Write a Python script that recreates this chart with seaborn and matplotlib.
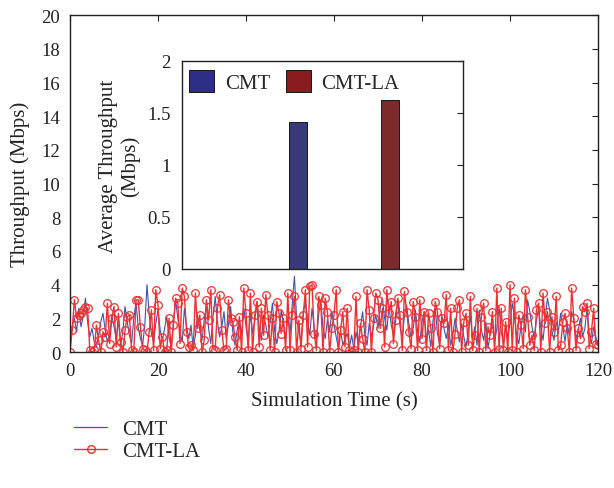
import numpy as np
import pandas as pd
import matplotlib
matplotlib.use("Agg")
import matplotlib.pyplot as plt
from matplotlib.patches import Patch
from matplotlib.lines import Line2D
import seaborn as sns

sns.set_style("white")
plt.rcParams['font.family'] = ['Liberation Serif', 'DejaVu Serif']
plt.rcParams['mathtext.fontset'] = 'stix'

time_step = 0.5
cmt_la = [
    0, 1.3, 3.1, 2.0, 2.2, 2.3, 2.5, 2.7, 2.6, 0.1, 0, 0.1, 1.6, 0.7, 0, 1.2, 0.9, 2.9, 0.5, 2.0,
    2.7, 0.3, 2.3, 0.6, 0, 1.3, 2.1, 2.2, 0.1, 0, 3.1, 3.1, 1.5, 0.2, 0.1, 0, 1.2, 2.5, 0.1, 3.7,
    2.8, 0.2, 0.9, 0, 0.1, 2.0, 0, 1.6, 3.2, 2.9, 0.5, 3.8, 3.3, 1.2, 0.3, 0.4, 0.1, 3.5, 1.4, 2.2,
    0, 0.7, 3.1, 1.9, 3.7, 0.2, 0.1, 2.6, 3.4, 1.3, 0.1, 0.2, 3.1, 2.0, 1.8, 0.9, 0.1, 2.1, 0, 3.8,
    2.3, 0.1, 3.5, 0, 2.2, 3.0, 0.3, 2.6, 1.0, 3.4, 2.2, 0.1, 2.0, 0, 3.0, 2.3, 1.1, 2.0, 0.1, 3.5,
    0.1, 2.2, 3.3, 0, 1.9, 0.2, 2.2, 3.7, 0.3, 3.9, 4.0, 1.1, 0.1, 3.3, 2.8, 0, 3.2, 2.4, 0, 1.4,
    2.2, 3.7, 0, 1.3, 2.4, 0.3, 2.6, 0.1, 0, 0.1, 3.3, 0, 1.7, 0.8, 0, 3.7, 2.5, 0, 2.0, 3.5,
    3.1, 1.4, 2.6, 0.3, 3.7, 2.3, 3.0, 0.5, 1.9, 3.2, 2.2, 0.1, 3.6, 2.4, 1.2, 0.2, 3.0, 2.1, 0.1, 3.1,
    0.8, 2.4, 0.1, 2.3, 1.4, 0, 3.0, 2.4, 0.2, 2.0, 1.7, 3.4, 0.1, 2.6, 0, 1.1, 2.6, 3.1, 0, 1.8,
    2.3, 0.4, 3.3, 0.1, 1.0, 2.6, 0, 2.1, 2.9, 0.1, 1.5, 1.0, 2.4, 0, 3.8, 0.2, 2.6, 0.1, 1.8, 0,
    4.0, 0.1, 3.2, 0, 2.2, 1.6, 0.2, 3.7, 2.1, 0.4, 1.0, 0.1, 2.5, 2.9, 0, 3.5, 1.7, 2.4, 0, 2.1,
    1.2, 3.3, 0.1, 0.4, 1.8, 2.3, 1.4, 0, 3.8, 2.0, 0.1, 1.4, 0.8, 2.7, 2.4, 2.9, 0.2, 1.2, 2.6, 0.5, 0.4,
]
cmt = [
    0.5, 1.5, 2.0, 1.2, 2.6, 1.5, 2.1, 3.2, 1.8, 0.9, 1.4, 0.6, 0.3, 1.0, 1.8, 2.3, 1.3, 0.6, 1.1, 2.2,
    1.5, 0.8, 1.9, 0.4, 1.2, 2.7, 1.8, 1.0, 0.5, 2.0, 3.0, 1.5, 0.8, 0.4, 1.6, 4.0, 2.2, 1.1, 0.6, 1.7,
    2.5, 1.3, 0.7, 1.4, 2.1, 0.9, 0.3, 1.8, 3.1, 2.0, 1.2, 0.6, 2.6, 1.5, 0.8, 1.6, 0.2, 1.0, 2.2, 1.3,
    0.7, 1.9, 2.8, 1.4, 0.5, 2.1, 3.3, 1.8, 0.9, 1.5, 2.4, 0.8, 1.6, 2.7, 1.2, 0.4, 1.3, 2.0, 1.0, 2.6,
    1.5, 0.6, 2.3, 1.1, 1.9, 3.0, 1.4, 0.7, 2.2, 1.6, 0.9, 1.8, 2.9, 1.3, 0.5, 1.2, 2.5, 1.7, 0.8, 2.0,
    1.1, 2.8, 4.5, 2.0, 1.2, 0.6, 2.3, 3.0, 1.8, 1.0, 2.6, 1.5, 0.7, 2.2, 3.1, 1.4, 0.8, 1.9, 1.2, 2.4,
    1.6, 0.9, 0.2, 1.3, 0.4, 0.8, 1.1, 0.3, 1.0, 0.2, 1.2, 0.5, 1.5, 2.4, 1.0, 0.4, 1.7, 0.9, 1.6, 2.2,
    1.4, 2.6, 3.2, 2.0, 1.3, 2.7, 1.6, 1.0, 2.3, 3.0, 1.5, 0.8, 2.1, 2.8, 1.7, 0.9, 1.4, 2.5, 1.2, 0.6,
    1.8, 2.4, 0.7, 1.3, 0.3, 1.9, 2.6, 1.1, 0.5, 2.2, 1.4, 0.8, 1.6, 0.4, 1.0, 2.0, 1.3, 0.6, 1.7, 0.9,
    0.3, 1.2, 2.1, 0.8, 1.5, 0.4, 2.5, 1.3, 0.7, 1.8, 0.2, 1.1, 2.0, 0.6, 1.4, 2.7, 1.2, 0.5, 1.6, 0.9,
    1.7, 2.9, 2.1, 1.0, 0.5, 1.6, 2.2, 1.2, 3.1, 2.4, 1.5, 0.8, 1.9, 2.6, 1.4, 0.7, 2.0, 3.2, 2.5, 1.3,
    0.7, 1.8, 1.2, 2.3, 1.5, 0.6, 1.7, 1.0, 2.4, 1.9, 0.8, 1.3, 2.0, 0.9, 1.4, 2.6, 1.1, 0.5, 1.5, 0.9, 0.4,
]
series_names = ["CMT", "CMT-LA"]
avg_throughput = [1.41, 1.62]
x_ticks = [0, 20, 40, 60, 80, 100, 120]
y_ticks = [0, 2, 4, 6, 8, 10, 12, 14, 16, 18, 20]
inset_ticks = [0, 0.5, 1, 1.5, 2]

t = np.arange(len(cmt)) * time_step
df = pd.DataFrame({"t": t, "CMT": cmt, "CMT-LA": cmt_la})

blue = "#3a55b5"
red = "#f03030"
bar_colors = ["#2c2f85", "#8a1c1f"]
fs_tick = 13.5
fs_lab = 15
txt = "#222222"

fig = plt.figure(figsize=(6.14, 4.89), dpi=100)
ax = fig.add_axes([0.114, 0.278, 0.860, 0.689])
sns.lineplot(data=df, x="t", y="CMT", ax=ax, color=blue, lw=0.8)
sns.lineplot(data=df, x="t", y="CMT-LA", ax=ax, color=red, lw=1.0,
             marker="o", markersize=5.5, markerfacecolor="none",
             markeredgecolor=red, markeredgewidth=0.9)
ax.set_xlim(0, 120)
ax.set_ylim(0, 20)
ax.set_xticks(x_ticks)
ax.set_yticks(y_ticks)
ax.tick_params(direction="in", top=True, right=True, labelsize=fs_tick, length=4,
               width=0.8, colors=txt, pad=7)
ax.set_xlabel("Simulation Time (s)", fontsize=fs_lab, color=txt, labelpad=9)
ax.set_ylabel("Throughput (Mbps)", fontsize=fs_lab, color=txt, labelpad=8)
for s in ax.spines.values():
    s.set_color(txt)
    s.set_linewidth(1.0)

# inset bar chart
ins = fig.add_axes([0.2964, 0.4479, 0.4577, 0.4254])
bdf = pd.DataFrame({"name": series_names, "avg": avg_throughput})
sns.barplot(data=bdf, x="name", y="avg", hue="name", palette=bar_colors,
            ax=ins, width=0.2, legend=False, edgecolor="black", linewidth=0.6)
ins.set_xlim(-1.26, 1.79)
ins.set_ylim(0, 2)
ins.set_yticks(inset_ticks)
ins.set_yticklabels(["0", "0.5", "1", "1.5", "2"])
ins.set_xticks([])
ins.set_xlabel("")
ins.set_ylabel("Average Throughput\n(Mbps)", fontsize=fs_lab, color=txt, labelpad=5)
ins.tick_params(direction="in", right=True, labelsize=fs_tick, length=4, colors=txt, pad=8)
for s in ins.spines.values():
    s.set_color(txt)
    s.set_linewidth(1.0)
handles = [Patch(facecolor=bar_colors[0], edgecolor="black", lw=0.6),
           Patch(facecolor=bar_colors[1], edgecolor="black", lw=0.6)]
ins.legend(handles, series_names, loc="upper left", ncol=2, frameon=False,
           fontsize=fs_lab, bbox_to_anchor=(-0.04, 1.045), handlelength=1.2,
           handleheight=1.2, columnspacing=0.75, handletextpad=0.5)

# main legend below
lh = [Line2D([], [], color=blue, lw=0.9),
      Line2D([], [], color=red, lw=1.0, marker="o", markersize=5.5,
             markerfacecolor="none", markeredgecolor=red)]
fig.legend(lh, series_names, loc="upper left", bbox_to_anchor=(0.09, 0.178),
           frameon=False, fontsize=fs_lab, handlelength=1.6, labelspacing=0.1,
           handletextpad=0.7)

fig.savefig("out.png", dpi=100)
